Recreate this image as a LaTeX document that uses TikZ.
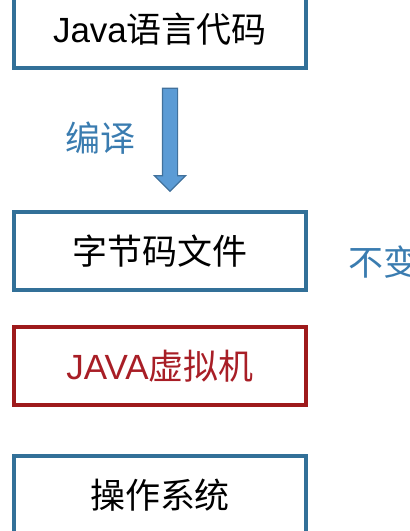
\documentclass[tikz,border=0pt]{standalone}
\usepackage{fontspec}
\setmainfont{Noto Sans CJK SC}
\newfontfamily\latinfont{Liberation Sans}
\usepackage{xcolor}
\usetikzlibrary{shapes.arrows, calc}
\definecolor{boxblue}{RGB}{50,112,152}
\definecolor{vmred}{RGB}{158,26,28}
\definecolor{vmtext}{RGB}{168,30,38}
\definecolor{noteblue}{RGB}{58,124,176}
\definecolor{arrowfill}{RGB}{91,155,213}
\definecolor{arrowline}{RGB}{65,113,156}
\tikzstyle{codebox} = [rectangle, minimum width=292pt, minimum height=78pt, text centered, draw=boxblue, line width=4pt, font=\fontsize{35}{42}\selectfont]
\tikzstyle{vmbox} = [codebox, draw=vmred, text=vmtext]
\tikzstyle{note} = [inner sep=0pt, text=noteblue, font=\fontsize{35}{42}\selectfont]
\tikzstyle{bigarrow} = [single arrow, draw=arrowline, fill=arrowfill, line width=1.2pt, inner sep=7pt, minimum height=103pt, minimum width=31pt, single arrow head extend=8pt, rotate=-90]

\begin{document}
\begin{tikzpicture}[node distance=115pt]
    \useasboundingbox (0,0) rectangle (410pt,-531pt);

    % Nodes
    \node (java) [codebox] at (160pt,-29pt) {{\latinfont Java}语言代码};
    \node (bytecode) [codebox, below of=java, yshift=-107pt] {字节码文件};
    \node (jvm) [vmbox, below of=bytecode] {{\latinfont JAVA}虚拟机};
    \node (os) [codebox, below of=jvm, yshift=-14pt] {操作系统};

    % Arrow
    \node (compile) [bigarrow] at ($(java.south)!0.5!(bytecode.north)+(10pt,4pt)$) {};
    \node (compilelabel) [note, left of=compile, xshift=45pt, yshift=-2pt] {编译};
    \node (unchanged) [note, anchor=west, xshift=40pt, yshift=-11pt] at (bytecode.east) {不变};

\end{tikzpicture}
\end{document}
